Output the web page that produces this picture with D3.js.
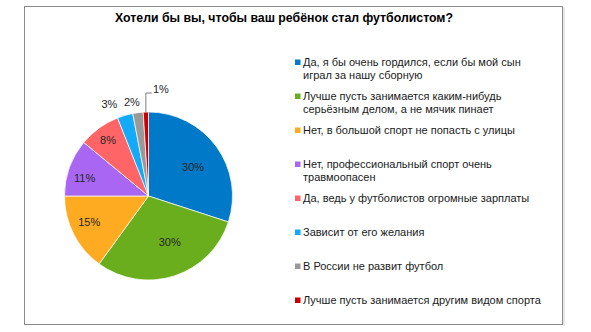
<!DOCTYPE html>
<html><head><meta charset="utf-8">
<script src="https://cdn.jsdelivr.net/npm/d3@7/dist/d3.min.js"></script>
<style>body{margin:0;background:#fff;}svg{display:block;font-family:"Liberation Sans",Arial,sans-serif;}</style>
</head><body>
<svg id="c" width="591" height="332"></svg>
<script>
const title = "Хотели бы вы, чтобы ваш ребёнок стал футболистом?";
const categories = [
  ["Да, я бы очень гордился, если бы мой сын", "играл за нашу сборную"],
  ["Лучше пусть занимается каким-нибудь", "серьёзным делом, а не мячик пинает"],
  ["Нет, в большой спорт не попасть с улицы"],
  ["Нет, профессиональный спорт очень", "травмоопасен"],
  ["Да, ведь у футболистов огромные зарплаты"],
  ["Зависит от его желания"],
  ["В России не развит футбол"],
  ["Лучше пусть занимается другим видом спорта"]
];
const values = [30, 30, 15, 11, 8, 3, 2, 1];
const colors = ["#0079C9", "#6AAE1D", "#FFAB22", "#A866F2", "#FF6467", "#14AAFA", "#999999", "#C80000"];

const svg = d3.select("#c");
svg.append("rect").attr("x",24.5).attr("y",6.5).attr("width",538).attr("height",318)
  .attr("fill","#fff").attr("stroke","#8a8a8a").attr("stroke-width",1);
svg.append("line").attr("x1",564).attr("x2",564).attr("y1",7).attr("y2",326).attr("stroke","#d0d0d0");
const tt = svg.append("text").attr("x",284).attr("y",21.5).attr("text-anchor","middle")
  .attr("font-weight","bold").attr("font-size",12.3).attr("fill","#000").text(title);
tt.attr("textLength",338).attr("lengthAdjust","spacingAndGlyphs");

const cx = 148.5, cy = 196, r = 84;
const pie = d3.pie().sort(null).value(d=>d);
const arcs = pie(values);
const arc = d3.arc().innerRadius(0).outerRadius(r);
const g = svg.append("g").attr("transform",`translate(${cx},${cy})`);
g.selectAll("path").data(arcs).enter().append("path")
  .attr("d",arc).attr("fill",(d,i)=>colors[i]).attr("stroke","#fff").attr("stroke-width",0.7);

const fmt = v => v + "%";
// label placement (layout only): radius factor and angle nudge (radians) per slice
const labelR = [0.63, 0.6, 0.77, 0.79, 0.82, 1.19, 1.13, 0];
const labelNudge = [0.06, -0.12, 0.06, -0.07, 0, -0.12, -0.05, 0];
arcs.forEach((d,i)=>{
  const a = (d.startAngle+d.endAngle)/2 + labelNudge[i];
  let p = [Math.sin(a)*r*labelR[i], -Math.cos(a)*r*labelR[i]];
  if (i === 7) {
    const x0 = Math.sin(a)*r;
    g.append("path").attr("d",`M${x0},${-r} V${-r-19} H${x0+6}`)
      .attr("fill","none").attr("stroke","#7f7f7f").attr("stroke-width",1);
    p = [x0+15, -r-23];
  }
  g.append("text").attr("x",p[0]).attr("y",p[1]).attr("dy","0.35em")
    .attr("text-anchor","middle").attr("font-size",11).attr("fill","#262626").text(fmt(values[i]));
});

// legend
const lx = 295, tx = 303, y0 = 62.5, step = 34, lh = 12.7;
categories.forEach((lines,i)=>{
  const y = y0 + i*step;
  svg.append("rect").attr("x",lx).attr("y",y-3).attr("width",5.5).attr("height",5.5).attr("fill",colors[i]);
  const t = svg.append("text").attr("font-size",11).attr("fill","#1a1a1a");
  lines.forEach((s,j)=>{
    t.append("tspan").attr("x",tx).attr("y",y+j*lh).attr("dy","0.35em").text(s);
  });
});
</script>
</body></html>
